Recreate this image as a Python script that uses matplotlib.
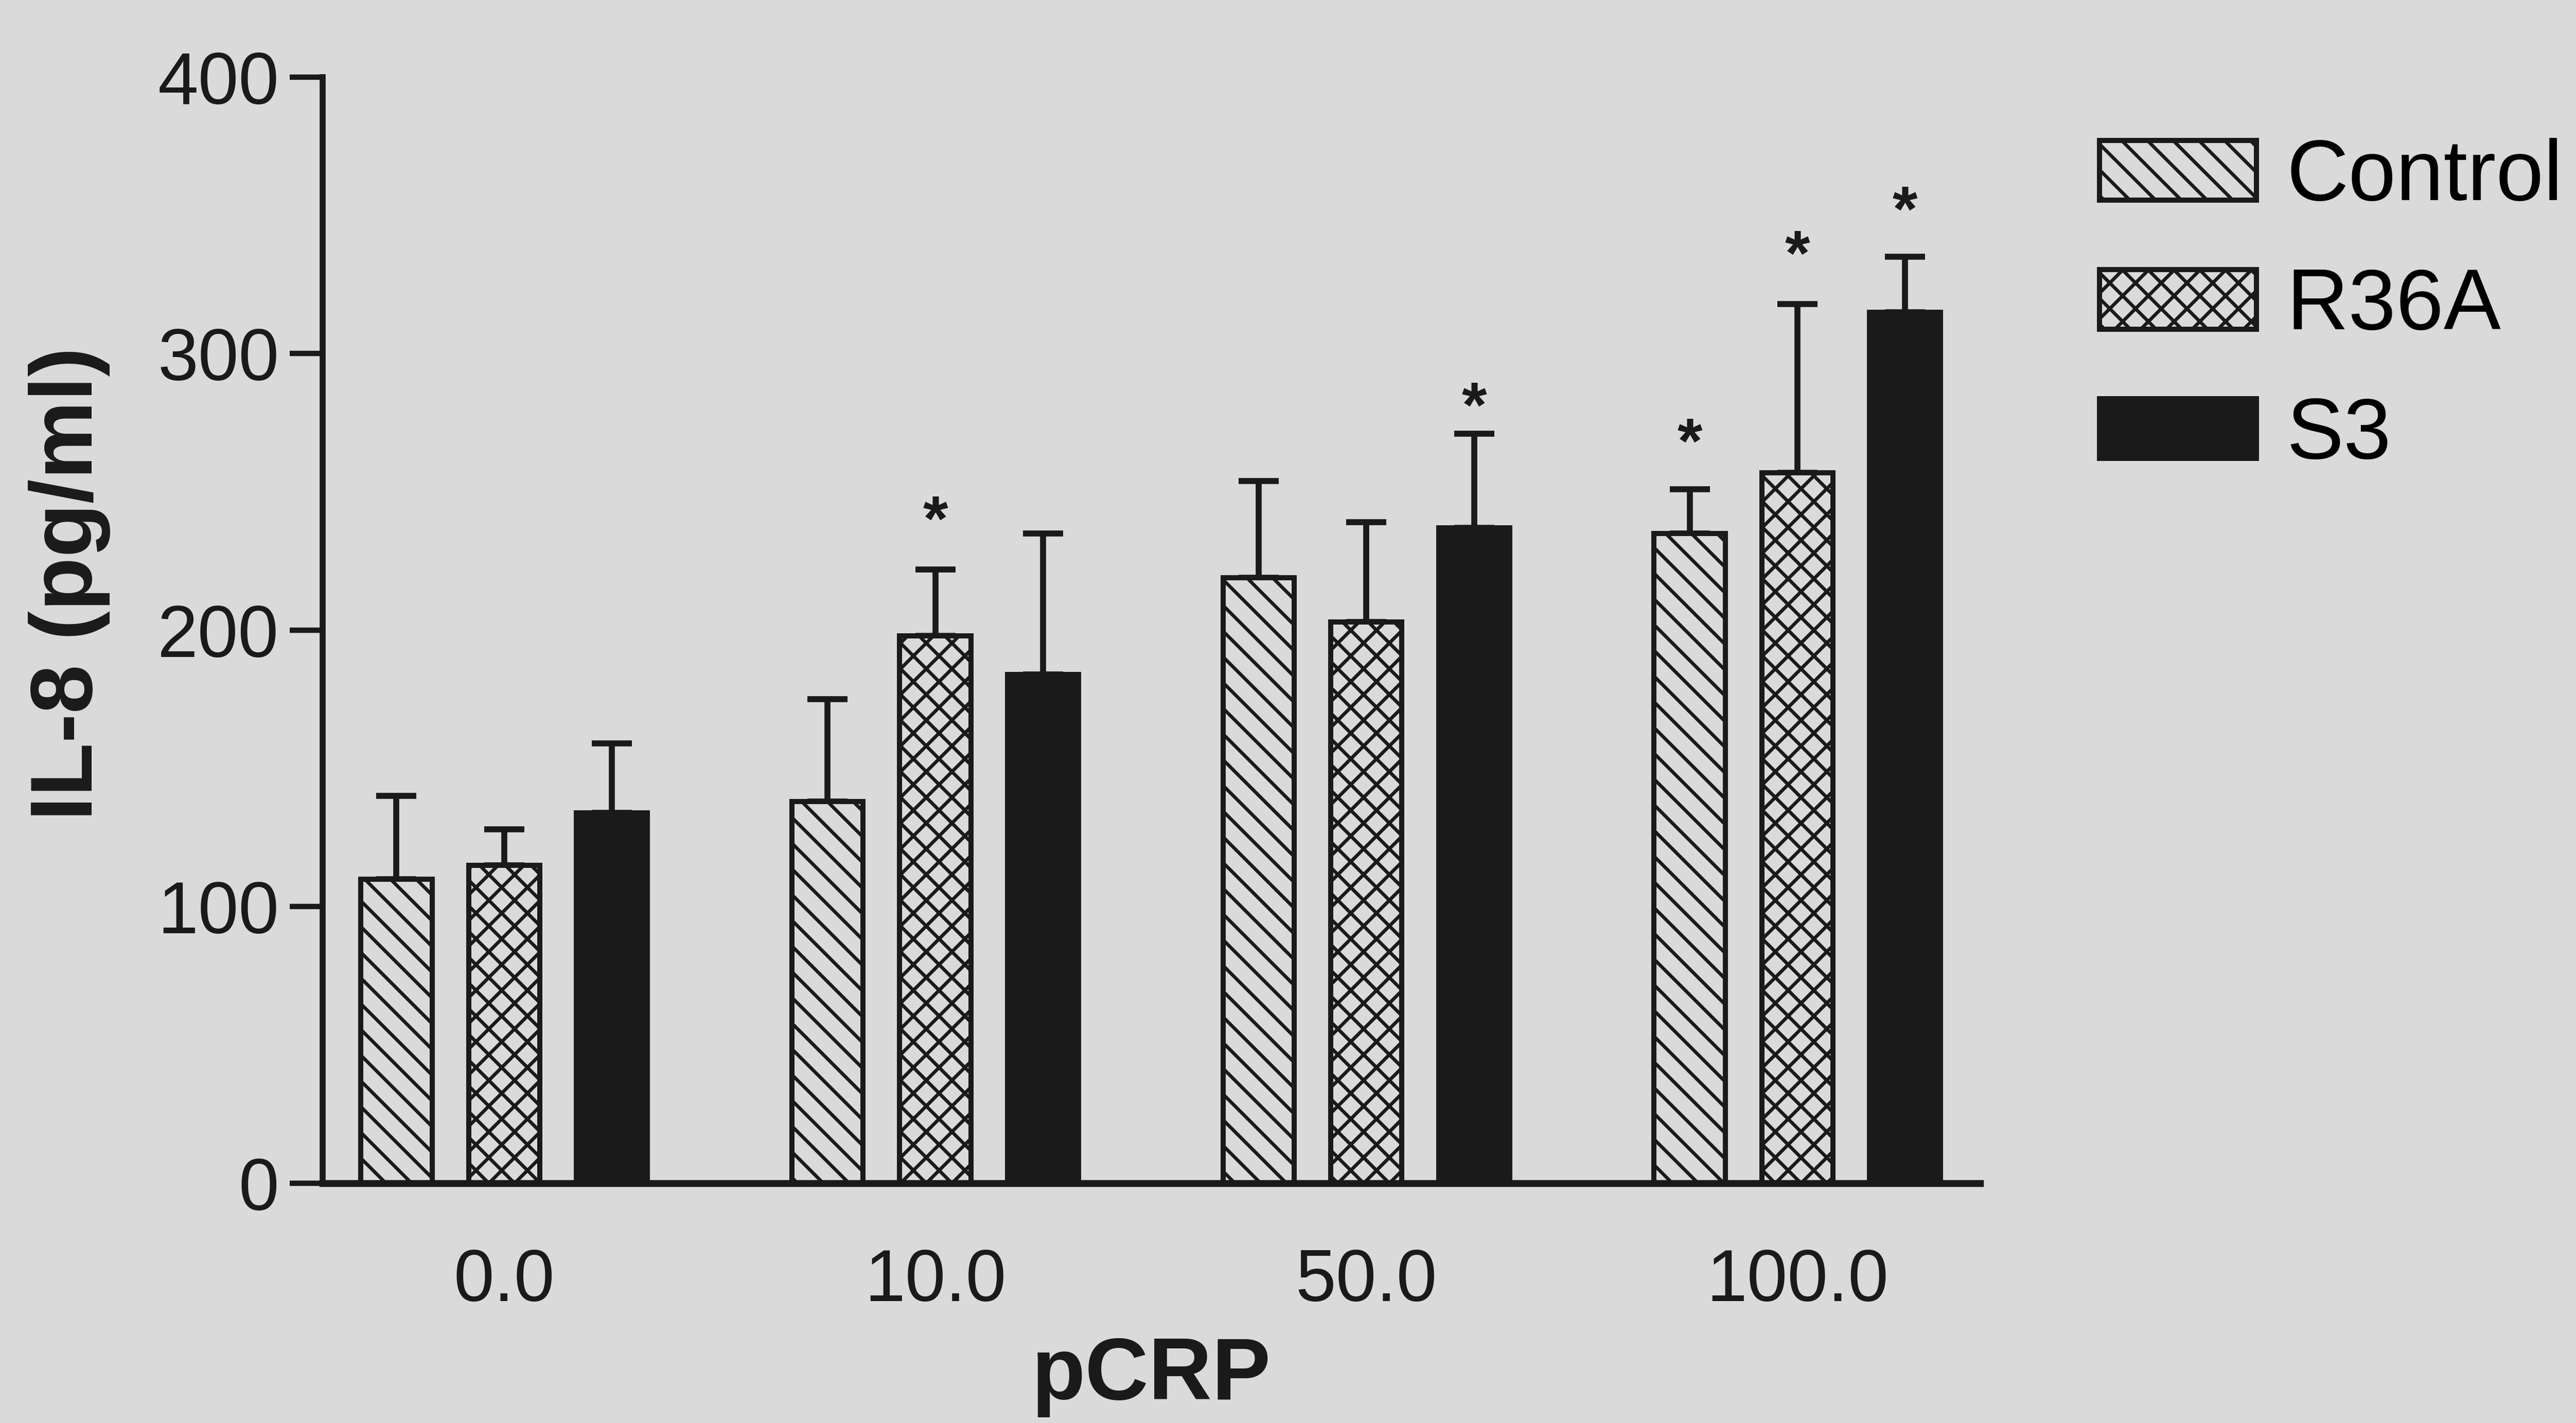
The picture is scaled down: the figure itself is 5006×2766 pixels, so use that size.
import numpy as np
import matplotlib
matplotlib.use("Agg")
from matplotlib import pyplot as plt

# -------------------------
# data
# -------------------------
doses = ['0.0', '10.0', '50.0', '100.0']
groups = ['Control', 'R36A', 'S3']

control = [110, 138, 219, 235]
control_err = [30, 37, 35, 16]
r36a = [115, 198, 203, 257]
r36a_err = [13, 24, 36, 61]
s3 = [134, 184, 237, 315]
s3_err = [25, 51, 34, 20]

# significance stars: (dose index, group index, y of star centre)
star_dose = [1, 2, 3, 3, 3]
star_group = [1, 2, 0, 1, 2]
star_y = [245, 286, 273, 341, 357]

bg = '#dadada'
ink = '#1a1a1a'

plt.rcParams['font.family'] = ['Liberation Sans', 'DejaVu Sans']
plt.rcParams['hatch.linewidth'] = 1.6
plt.rcParams['hatch.color'] = ink

fig = plt.figure(figsize=(5006/300, 2766/300), dpi=300, facecolor=bg)
ax = fig.add_axes([0.1253, 0.1685, 0.7687-0.1253, 0.9458-0.1685])
ax.set_facecolor(bg)

x = np.arange(len(doses))
offsets = [-0.25, 0, 0.25]
width = 0.165
means = [control, r36a, s3]
errs = [control_err, r36a_err, s3_err]
hatches = ['\\\\', 'xx', None]
fills = [bg, bg, ink]

for i in range(3):
    pos = x + offsets[i]
    ax.bar(pos, means[i], width, color=fills[i], edgecolor=ink, linewidth=2.4,
           hatch=hatches[i], label=groups[i], zorder=2)
    ax.errorbar(pos, means[i], yerr=[np.zeros(len(doses)), errs[i]], fmt='none',
                ecolor=ink, elinewidth=2.8, capsize=9.4, capthick=2.8, zorder=1)

for d, g, y in zip(star_dose, star_group, star_y):
    ax.annotate('*', (x[d] + offsets[g], y), xytext=(0, -8.5), textcoords='offset points',
                ha='center', va='center', fontsize=30, fontweight='bold', color=ink)

ax.set_xlim(-0.421, 3.424)
ax.set_ylim(0, 400)
ax.set_yticks([0, 100, 200, 300, 400])
ax.set_xticks(x)
ax.set_xticklabels(doses)
ax.tick_params(axis='y', direction='out', length=15.4, width=2.5, pad=5,
               labelsize=34, colors=ink)
ax.tick_params(axis='x', length=0, pad=30, labelsize=34, colors=ink)
for s in ['top', 'right']:
    ax.spines[s].set_visible(False)
ax.spines['left'].set_linewidth(2.8)
ax.spines['bottom'].set_linewidth(3.2)
for s in ['left', 'bottom']:
    ax.spines[s].set_color(ink)

ax.set_xlabel('pCRP', fontsize=41, fontweight='bold', color=ink, labelpad=9)
ax.set_ylabel('IL-8 (pg/ml)', fontsize=41, fontweight='bold', color=ink)
ax.yaxis.set_label_coords(-0.128, 0.542)

ax.legend(loc='upper left', bbox_to_anchor=(0.815, 0.903), bbox_transform=fig.transFigure,
          frameon=False, fontsize=40, handlelength=1.83, handleheight=0.70,
          handletextpad=0.35, labelspacing=0.57, borderpad=0, borderaxespad=0)

plt.savefig('out.png', dpi=300, facecolor=bg)
